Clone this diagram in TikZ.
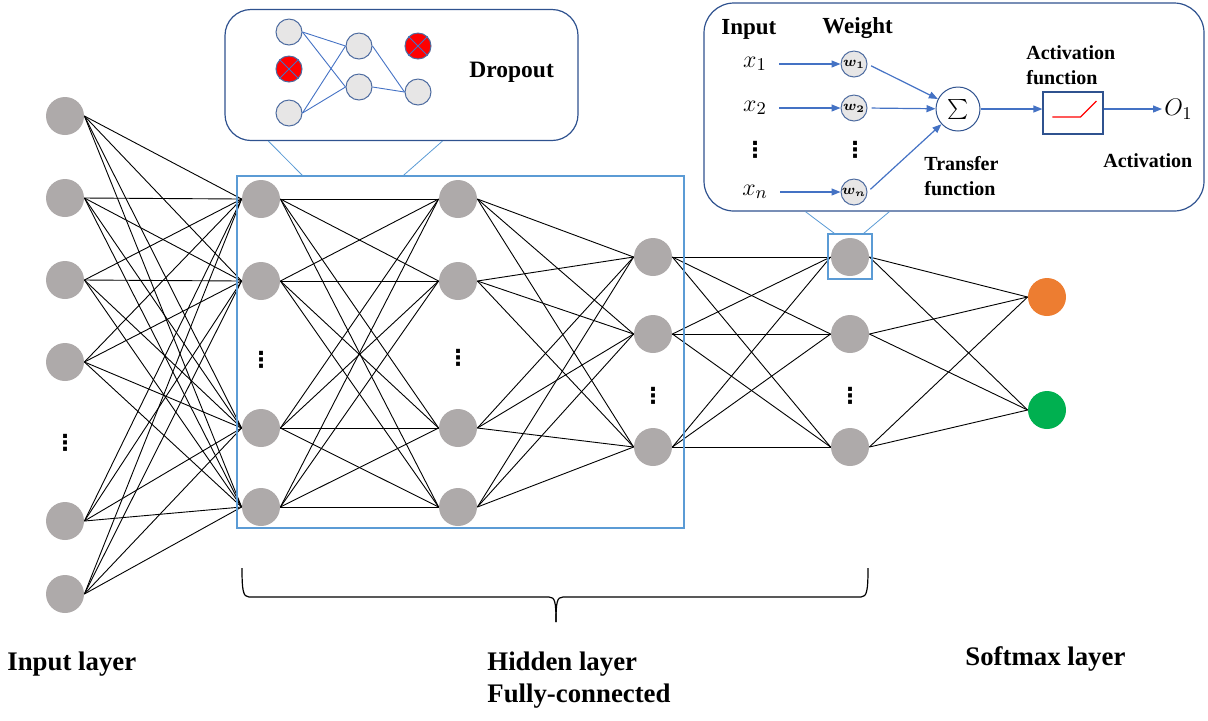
\documentclass[tikz,border=0pt]{standalone}
\usepackage{fontspec}
\setmainfont{Liberation Serif}
\newfontfamily\symfont{DejaVu Sans}
\usepackage{amsmath,amssymb,bm}
\usepackage{tikz}
\usetikzlibrary{calc}
\usetikzlibrary{arrows.meta}
\definecolor{nodegray}{HTML}{AEAAAA}
\definecolor{outorange}{HTML}{ED7D31}
\definecolor{outgreen}{HTML}{00B050}
\definecolor{frameblue}{HTML}{5B9BD5}
\definecolor{boxblue}{HTML}{2F528F}
\definecolor{linkblue}{HTML}{4472C4}
\definecolor{minigray}{HTML}{E7E6E6}
\tikzset{
    neuron/.style={circle, fill=nodegray, minimum size=19pt, inner sep=0pt},
    link/.style={line width=0.45pt},
    vdot/.style={font=\fontsize{11}{11}\symfont\bfseries, inner sep=0pt, anchor=base},
    mini/.style={circle, draw=boxblue!85, fill=minigray, line width=0.5pt, minimum size=13pt, inner sep=0pt},
    minilink/.style={linkblue, line width=0.45pt},
    callbox/.style={draw=boxblue, line width=0.6pt, rounded corners=13pt},
    hidframe/.style={draw=frameblue, line width=0.6pt},
    calloutline/.style={frameblue, line width=0.4pt},
    arr/.style={linkblue, line width=0.6pt, -{Triangle[length=4.5pt,width=3.5pt]}},
    wcirc/.style={circle, draw=boxblue!85, fill=minigray, line width=0.5pt, minimum size=13pt, inner sep=0pt, font=\fontsize{7.5}{7.5}\selectfont},
    sumcirc/.style={circle, draw=boxblue, fill=white, line width=0.5pt, minimum size=22pt, inner sep=0pt, font=\fontsize{10}{10}\selectfont},
    actbox/.style={draw=boxblue, line width=0.6pt},
    mathtxt/.style={font=\fontsize{12.5}{12.5}\selectfont, inner sep=2pt},
    layerlbl/.style={font=\fontsize{13.4}{16}\selectfont\bfseries, inner sep=0pt, anchor=base west},
    headlbl/.style={font=\fontsize{11.5}{13}\selectfont\bfseries, inner sep=0pt, anchor=base west},
    smalllbl/.style={font=\fontsize{10}{12}\selectfont\bfseries, inner sep=0pt, anchor=base west}
}

\begin{document}
\begin{tikzpicture}[x=0.5pt,y=-0.5pt]
    \useasboundingbox (0,0) rectangle (1208,720);
    %layers
    \foreach \k/\y in {1/116,2/198,3/280,4/362,5/521,6/594}
        \node[neuron] (in\k) at (65,\y) {};
    \foreach \k/\y in {1/199,2/281,3/428,4/507}{
        \node[neuron] (ha\k) at (261,\y) {};
        \node[neuron] (hb\k) at (458,\y) {};}
    \foreach \k/\y in {1/257,2/334,3/447}{
        \node[neuron] (hc\k) at (653,\y) {};
        \node[neuron] (hd\k) at (850,\y) {};}
    \node[neuron, fill=outorange] (out1) at (1047,297) {};
    \node[neuron, fill=outgreen] (out2) at (1047,410) {};
    \node[vdot] (ind) at (65,450) {⋮};
    \node[vdot] (had) at (261,367) {⋮};
    \node[vdot] (hbd) at (458,365) {⋮};
    \node[vdot] (hcd) at (653,403) {⋮};
    \node[vdot] (hdd) at (850,403) {⋮};
    %weights
    \foreach \a in {1,...,6} \foreach \b in {1,...,4} \draw[link] (in\a.east) -- (ha\b.west);
    \foreach \a in {1,...,4} \foreach \b in {1,...,4} \draw[link] (ha\a.east) -- (hb\b.west);
    \foreach \a in {1,...,4} \foreach \b in {1,2,3} \draw[link] (hb\a.east) -- (hc\b.west);
    \foreach \a in {1,2,3} \foreach \b in {1,2,3} \draw[link] (hc\a.east) -- (hd\b.west);
    \foreach \a in {1,2,3} \foreach \b in {1,2} \draw[link] (hd\a.east) -- (out\b.west);
    %boxes
    \node[hidframe, minimum width=223.5pt, minimum height=176pt] (hidden) at (460.5,352) {};
    \node[hidframe, minimum width=22pt, minimum height=22.5pt] (focus) at (850,256.5) {};
    \node[callbox, minimum width=176.5pt, minimum height=65.5pt] (dropbox) at (401.5,75) {};
    \node[callbox, minimum width=250pt, minimum height=104pt, rounded corners=15pt] (percbox) at (954,107) {};
    \draw[calloutline] ($(dropbox.south west)+(44,0)$) -- ($(hidden.north west)+(66,0)$);
    \draw[calloutline] ($(dropbox.south west)+(218,0)$) -- ($(hidden.north west)+(167,0)$);
    \draw[calloutline] ($(percbox.south west)+(102,0)$) -- ($(focus.north west)+(7,0)$);
    \draw[calloutline] ($(percbox.south west)+(186,0)$) -- ($(focus.north east)+(-9,0)$);
    %dropout
    \node[mini] (da1) at (289,32) {};
    \node[mini, fill=red] (da2) at (289,69) {};
    \node[mini] (da3) at (289,113) {};
    \node[mini] (db1) at (359,46) {};
    \node[mini] (db2) at (359,87) {};
    \node[mini, fill=red] (dc1) at (418,46) {};
    \node[mini] (dc2) at (418,92) {};
    \foreach \s/\t in {da1/db1,da1/db2,da3/db1,da3/db2,db1/dc2,db2/dc2}
        \draw[minilink] (\s.east) -- (\t.west);
    \foreach \r in {da2,dc1}
        \draw[minilink] (\r.north west) -- (\r.south east) (\r.north east) -- (\r.south west);
    \node[headlbl, font=\fontsize{11.75}{13}\selectfont\bfseries] (droplbl) at (469,77) {Dropout};
    %perceptron
    \node[headlbl] (inlbl) at (721,34) {Input};
    \node[headlbl] (wlbl) at (822,33) {Weight};
    \node[sumcirc] (sum) at (958,109) {$\sum$};
    \foreach \k/\i/\y in {1/1/64,2/2/108,3/n/192}{
        \node[mathtxt] (x\k) at (755,\y) {$x_\i$};
        \node[wcirc] (w\k) at (854,\y) {$\bm{w_\i}$};
        \draw[arr, shorten <=4pt] (x\k.east) -- (w\k.west);
        \draw[arr, shorten <=2pt] (w\k.east) -- (sum);}
    \node[vdot] (xd) at (755,157) {⋮};
    \node[vdot] (wd) at (855,157) {⋮};
    \node[smalllbl] (tf1) at (924,170) {Transfer};
    \node[smalllbl] (tf2) at (924,195) {function};
    \node[actbox, minimum width=30pt, minimum height=21pt] (act) at (1073,113) {};
    \draw[red, line width=0.6pt] ($(act.west)+(10,4)$) -- ++(28,0) -- ++(16,-16);
    \node[smalllbl] (af1) at (1026,59) {Activation};
    \node[smalllbl] (af2) at (1026,84) {function};
    \node[mathtxt, anchor=west, inner sep=1pt] (o1) at (1162,109) {$O_1$};
    \draw[arr] (sum.east) -- (sum.east -| act.west);
    \draw[arr] (act.east |- o1.west) -- (o1.west);
    \node[smalllbl] (actlbl) at (1103,167) {Activation};
    %brace
    \draw[line width=0.6pt] (242,568) .. controls (242,590) and (243,597) .. (249,597) -- (549,597) .. controls (555,597) and (556,602) .. (556,622);
    \draw[line width=0.6pt] (868,568) .. controls (868,590) and (867,597) .. (861,597) -- (563,597) .. controls (557,597) and (556,602) .. (556,622);
    %labels
    \node[layerlbl] (inlayer) at (7,670) {Input layer};
    \node[layerlbl] (hidlayer) at (487,670) {Hidden layer};
    \node[layerlbl] (fclayer) at (487,702) {Fully-connected};
    \node[layerlbl] (smlayer) at (965,665) {Softmax layer};
\end{tikzpicture}
\end{document}
